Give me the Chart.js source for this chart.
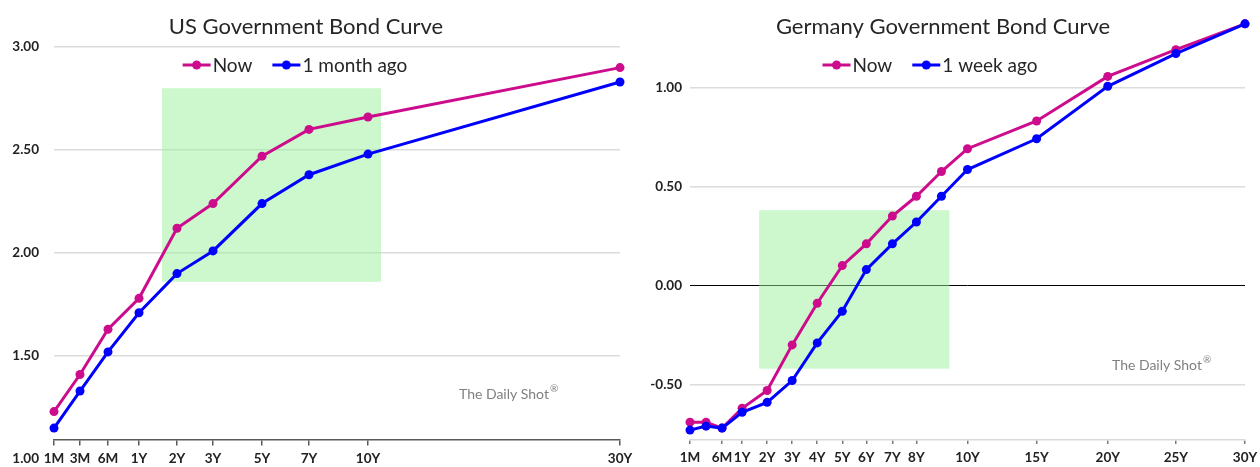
<!DOCTYPE html>
<html>
<head>
<meta charset="utf-8">
<title>Government Bond Curves</title>
<script src="https://cdn.jsdelivr.net/npm/chart.js@4.4.1/dist/chart.umd.min.js"></script>
<style>
  html, body { margin: 0; padding: 0; background: #fff; }
  .wrap { position: relative; width: 1260px; height: 467px; overflow: hidden; }
  .panel { position: absolute; top: 0; height: 467px; }
  #usPanel { left: 0; width: 645px; }
  #dePanel { left: 630px; width: 630px; }
</style>
</head>
<body>
<div class="wrap">
  <div class="panel" id="usPanel"><canvas id="usChart" width="645" height="467"></canvas></div>
  <div class="panel" id="dePanel"><canvas id="deChart" width="630" height="467"></canvas></div>
</div>
<script>
// US curve: tenors and where they sit along the maturity axis
const usTenors = ["1M", "3M", "6M", "1Y", "2Y", "3Y", "5Y", "7Y", "10Y", "30Y"];
const usAxisPos = [0, 2.6, 5.4, 8.5, 12.3, 15.9, 20.8, 25.5, 31.4, 56.6];
const usNow = [1.23, 1.41, 1.63, 1.78, 2.12, 2.24, 2.47, 2.6, 2.66, 2.9];
const usMonthAgo = [1.15, 1.33, 1.52, 1.71, 1.9, 2.01, 2.24, 2.38, 2.48, 2.83];
const usYTicks = [1.0, 1.5, 2.0, 2.5, 3.0];
const usBox = [10.8, 32.7, 1.86, 2.8]; // xFrom, xTo, yFrom, yTo

// Germany curve
const deTenors = ["1M", "3M", "6M", "1Y", "2Y", "3Y", "4Y", "5Y", "6Y", "7Y", "8Y", "9Y", "10Y", "15Y", "20Y", "25Y", "30Y"];
const deAxisPos = [0, 1.6, 3.2, 5.2, 7.7, 10.2, 12.7, 15.2, 17.6, 20.2, 22.6, 25.1, 27.7, 34.6, 41.7, 48.5, 55.4];
const deLabeled = ["1M", "6M", "1Y", "2Y", "3Y", "4Y", "5Y", "6Y", "7Y", "8Y", "10Y", "15Y", "20Y", "25Y", "30Y"];
const deNow = [-0.69, -0.69, -0.72, -0.62, -0.53, -0.3, -0.09, 0.1, 0.21, 0.35, 0.45, 0.575, 0.69, 0.83, 1.055, 1.19, 1.32];
const deWeekAgo = [-0.73, -0.71, -0.72, -0.64, -0.59, -0.48, -0.29, -0.13, 0.08, 0.21, 0.32, 0.45, 0.585, 0.74, 1.005, 1.17, 1.32];
const deYTicks = [-0.5, 0, 0.5, 1.0];
const deBox = [6.9, 25.9, -0.42, 0.38];

const PINK = "#cc0c8c";
const BLUE = "#0000ff";
const FONT = "Lato, 'Open Sans', sans-serif";

function points(xs, ys) {
  return xs.map((x, i) => ({ x: x, y: ys[i] }));
}

// highlight box, title, legend and watermark
const decor = {
  id: "decor",
  beforeDatasetsDraw(chart, args, opts) {
    const { ctx, scales } = chart;
    const [x0, x1, y0, y1] = opts.box;
    const left = scales.x.getPixelForValue(x0);
    const right = scales.x.getPixelForValue(x1);
    const top = scales.y.getPixelForValue(y1);
    const bottom = scales.y.getPixelForValue(y0);
    ctx.save();
    ctx.fillStyle = "rgba(150, 240, 150, 0.48)";
    ctx.fillRect(left, top, right - left, bottom - top);
    ctx.restore();
  },
  afterDraw(chart, args, opts) {
    const ctx = chart.ctx;
    ctx.save();

    ctx.fillStyle = "#262626";
    ctx.font = "22px " + FONT;
    ctx.textAlign = "center";
    ctx.textBaseline = "middle";
    ctx.fillText(opts.title, opts.titleX, 27);

    // legend: line-and-dot marker followed by the series name
    ctx.font = "19px " + FONT;
    ctx.textAlign = "left";
    const sets = chart.data.datasets;
    const mark = 28, gap = 2, between = 20;
    let total = 0;
    sets.forEach((ds, i) => {
      total += mark + gap + ctx.measureText(ds.label).width + (i ? between : 0);
    });
    let lx = opts.legendX - total / 2;
    const ly = 65;
    sets.forEach((ds) => {
      ctx.strokeStyle = ds.borderColor;
      ctx.lineWidth = 3;
      ctx.beginPath();
      ctx.moveTo(lx, ly);
      ctx.lineTo(lx + mark, ly);
      ctx.stroke();
      ctx.fillStyle = ds.borderColor;
      ctx.beginPath();
      ctx.arc(lx + mark / 2, ly, 4.5, 0, Math.PI * 2);
      ctx.fill();
      lx += mark + gap;
      ctx.fillStyle = "#262626";
      ctx.fillText(ds.label, lx, ly + 1);
      lx += ctx.measureText(ds.label).width + between;
    });

    // watermark
    ctx.fillStyle = "#808080";
    ctx.font = "14px " + FONT;
    ctx.textBaseline = "alphabetic";
    const wm = "The Daily Shot";
    ctx.fillText(wm, opts.markX, opts.markY);
    const w = ctx.measureText(wm).width;
    ctx.font = "10px " + FONT;
    ctx.fillText("\u00ae", opts.markX + w + 1, opts.markY - 7);

    ctx.restore();
  }
};

function lineSet(label, data, color, order) {
  return {
    label: label,
    data: data,
    borderColor: color,
    backgroundColor: color,
    pointBackgroundColor: color,
    borderWidth: 3,
    pointRadius: 4.5,
    pointHoverRadius: 4.5,
    pointBorderWidth: 0,
    tension: 0,
    clip: false,
    order: order
  };
}

const tickFont = { family: FONT, weight: "bold", size: 13.5 };

// y axes: fixed width, no extra room reserved for the end labels
function fixY(width) {
  return (s) => { s.width = width; s.paddingTop = 0; s.paddingBottom = 0; };
}

new Chart(document.getElementById("usChart"), {
  type: "line",
  data: {
    datasets: [
      lineSet("Now", points(usAxisPos, usNow), PINK, 2),
      lineSet("1 month ago", points(usAxisPos, usMonthAgo), BLUE, 1)
    ]
  },
  plugins: [decor],
  options: {
    responsive: false,
    animation: false,
    layout: { padding: { left: 0, right: 25, top: 47, bottom: 8 } },
    plugins: {
      legend: { display: false },
      tooltip: { enabled: false },
      decor: { box: usBox, title: "US Government Bond Curve", titleX: 306, legendX: 295, markX: 459, markY: 399 }
    },
    scales: {
      x: {
        type: "linear",
        min: usAxisPos[0],
        max: usAxisPos[usAxisPos.length - 1],
        position: { y: 1.092 },
        afterBuildTicks: (s) => { s.ticks = usAxisPos.map((v) => ({ value: v })); },
        afterFit: (s) => { s.height = 0; s.paddingLeft = 0; s.paddingRight = 0; },
        grid: { drawOnChartArea: false, drawTicks: true, tickLength: 5, tickColor: "#595959", lineWidth: 1.5 },
        border: { display: true, color: "#595959", width: 1.5 },
        ticks: {
          autoSkip: false, maxRotation: 0, padding: 5, color: "#222", font: tickFont,
          callback: (v) => usTenors[usAxisPos.indexOf(v)]
        }
      },
      y: {
        min: 1.0,
        max: 3.0,
        afterBuildTicks: (s) => { s.ticks = usYTicks.map((v) => ({ value: v })); },
        afterFit: fixY(54),
        grid: {
          drawTicks: false, lineWidth: 1.5,
          color: (c) => (c.tick && c.tick.value === 1 ? "rgba(0,0,0,0)" : "#dcdcdc")
        },
        border: { display: false },
        ticks: { padding: 15, color: "#222", font: tickFont, callback: (v) => v.toFixed(2) }
      }
    }
  }
});

new Chart(document.getElementById("deChart"), {
  type: "line",
  data: {
    datasets: [
      lineSet("Now", points(deAxisPos, deNow), PINK, 2),
      lineSet("1 week ago", points(deAxisPos, deWeekAgo), BLUE, 1)
    ]
  },
  plugins: [decor],
  options: {
    responsive: false,
    animation: false,
    layout: { padding: { left: 0, right: 15, top: 10, bottom: 0 } },
    plugins: {
      legend: { display: false },
      tooltip: { enabled: false },
      decor: { box: deBox, title: "Germany Government Bond Curve", titleX: 313, legendX: 300, markX: 482, markY: 370 }
    },
    scales: {
      x: {
        type: "linear",
        min: deAxisPos[0],
        max: deAxisPos[deAxisPos.length - 1],
        afterBuildTicks: (s) => {
          s.ticks = deLabeled.map((t) => ({ value: deAxisPos[deTenors.indexOf(t)] }));
        },
        afterFit: (s) => { s.height = 27; s.paddingLeft = 0; s.paddingRight = 0; },
        grid: { drawOnChartArea: false, drawTicks: true, tickLength: 4, tickColor: "#7a7a7a", lineWidth: 1.5 },
        border: { display: true, color: "#d9d9d9", width: 1.5 },
        ticks: {
          autoSkip: false, maxRotation: 0, padding: 6, color: "#222", font: tickFont,
          callback: (v) => deTenors[deAxisPos.indexOf(v)]
        }
      },
      y: {
        min: -0.78,
        max: 1.39,
        afterBuildTicks: (s) => { s.ticks = deYTicks.map((v) => ({ value: v })); },
        afterFit: fixY(60),
        grid: {
          drawTicks: false,
          lineWidth: (c) => (c.tick && c.tick.value === 0 ? 1 : 1.5),
          color: (c) => (c.tick && c.tick.value === 0 ? "#000000" : "#dcdcdc")
        },
        border: { display: false },
        ticks: { padding: 8, color: "#222", font: tickFont, callback: (v) => v.toFixed(2) }
      }
    }
  }
});
</script>
</body>
</html>
